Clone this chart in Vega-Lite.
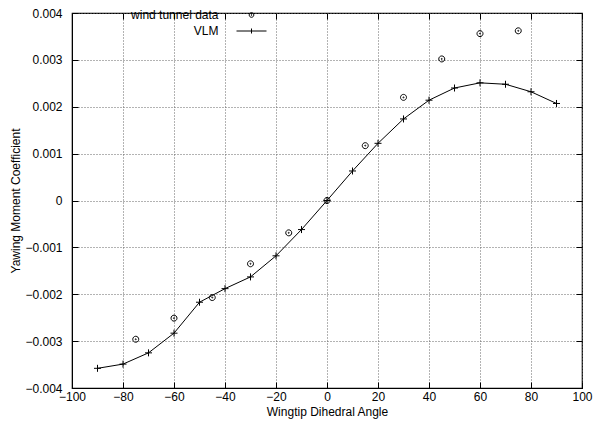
{
  "$schema": "https://vega.github.io/schema/vega-lite/v6.json",
  "width": 510,
  "height": 375,
  "autosize": {"type": "none"},
  "padding": {"left": 72, "top": 13, "right": 18, "bottom": 40},
  "background": "white",
  "config": {
    "font": "Liberation Sans",
    "view": {"stroke": "black", "strokeWidth": 1.2},
    "axis": {
      "domainColor": "black",
      "tickColor": "black",
      "tickSize": -6,
      "labelFontSize": 12,
      "titleFontSize": 12,
      "titleFontWeight": "normal",
      "labelColor": "black",
      "titleColor": "black",
      "gridColor": "#666666",
      "gridDash": [1, 2],
      "gridWidth": 1,
      "gridOpacity": 1,
      "labelFlush": false,
      "labelOverlap": false
    },
    "legend": {
      "orient": "none",
      "legendX": 173.5,
      "legendY": -4,
      "padding": 0,
      "labelAlign": "right",
      "labelOffset": -39,
      "labelFontSize": 12,
      "labelColor": "black",
      "rowPadding": 4,
      "symbolStrokeColor": "black",
      "symbolStrokeWidth": 1,
      "symbolOpacity": 1
    }
  },
  "data": {
    "values": [
      {"series": "VLM", "angle": -90, "cm": -0.00358},
      {"series": "VLM", "angle": -80, "cm": -0.00349},
      {"series": "VLM", "angle": -70, "cm": -0.00325},
      {"series": "VLM", "angle": -60, "cm": -0.00283},
      {"series": "VLM", "angle": -50, "cm": -0.00217},
      {"series": "VLM", "angle": -40, "cm": -0.00188},
      {"series": "VLM", "angle": -30, "cm": -0.00163},
      {"series": "VLM", "angle": -20, "cm": -0.00118},
      {"series": "VLM", "angle": -10, "cm": -0.00062},
      {"series": "VLM", "angle": 0, "cm": 0},
      {"series": "VLM", "angle": 10, "cm": 0.00063},
      {"series": "VLM", "angle": 20, "cm": 0.00122},
      {"series": "VLM", "angle": 30, "cm": 0.00174},
      {"series": "VLM", "angle": 40, "cm": 0.00214},
      {"series": "VLM", "angle": 50, "cm": 0.0024},
      {"series": "VLM", "angle": 60, "cm": 0.00251},
      {"series": "VLM", "angle": 70, "cm": 0.00248},
      {"series": "VLM", "angle": 80, "cm": 0.00232},
      {"series": "VLM", "angle": 90, "cm": 0.00207},
      {"series": "wind tunnel data", "angle": -75, "cm": -0.00296},
      {"series": "wind tunnel data", "angle": -60, "cm": -0.00251},
      {"series": "wind tunnel data", "angle": -45, "cm": -0.00207},
      {"series": "wind tunnel data", "angle": -30, "cm": -0.00135},
      {"series": "wind tunnel data", "angle": -15, "cm": -0.00069},
      {"series": "wind tunnel data", "angle": 0, "cm": 0},
      {"series": "wind tunnel data", "angle": 15, "cm": 0.00117},
      {"series": "wind tunnel data", "angle": 30, "cm": 0.0022},
      {"series": "wind tunnel data", "angle": 45, "cm": 0.00302},
      {"series": "wind tunnel data", "angle": 60, "cm": 0.00356},
      {"series": "wind tunnel data", "angle": 75, "cm": 0.00362}
    ]
  },
  "layer": [
    {
      "transform": [{"filter": "datum.series == 'VLM'"}],
      "mark": {"type": "line", "color": "black", "strokeWidth": 1},
      "encoding": {
        "x": {
          "field": "angle", "type": "quantitative",
          "scale": {"domain": [-100, 100], "nice": false, "zero": false},
          "axis": {"orient": "bottom", "values": [-100, -80, -60, -40, -20, 0, 20, 40, 60, 80, 100], "grid": true, "title": "Wingtip Dihedral Angle", "labelPadding": 9, "titlePadding": 4}
        },
        "y": {
          "field": "cm", "type": "quantitative",
          "scale": {"domain": [-0.004, 0.004], "nice": false, "zero": false},
          "axis": {"orient": "left", "values": [-0.004, -0.003, -0.002, -0.001, 0, 0.001, 0.002, 0.003, 0.004], "grid": true, "title": "Yawing Moment Coefficient", "labelPadding": 16, "titlePadding": 2, "labelExpr": "datum.value == 0 ? '0' : format(datum.value, '.3f')"}
        }
      }
    },
    {
      "transform": [{"filter": "datum.series == 'VLM'"}],
      "mark": {"type": "point", "shape": "M-1,0H1M0,-1V1", "size": 49, "filled": false, "stroke": "black", "strokeWidth": 1, "opacity": 1},
      "encoding": {
        "x": {"field": "angle", "type": "quantitative", "axis": {"orient": "top", "values": [-100, -80, -60, -40, -20, 0, 20, 40, 60, 80, 100], "labels": false, "grid": false, "title": null, "domain": false}},
        "y": {"field": "cm", "type": "quantitative", "axis": {"orient": "right", "values": [-0.004, -0.003, -0.002, -0.001, 0, 0.001, 0.002, 0.003, 0.004], "labels": false, "grid": false, "title": null, "domain": false}}
      }
    },
    {
      "transform": [{"filter": "datum.series == 'wind tunnel data'"}],
      "mark": {"type": "point", "shape": "M0.46,0A0.46,0.46 0 1,1 -0.46,0A0.46,0.46 0 1,1 0.46,0ZM0.08,0A0.08,0.08 0 1,1 -0.08,0A0.08,0.08 0 1,1 0.08,0Z", "size": 169, "filled": false, "stroke": "black", "strokeWidth": 1, "opacity": 1},
      "encoding": {
        "x": {"field": "angle", "type": "quantitative", "axis": null},
        "y": {"field": "cm", "type": "quantitative", "axis": null}
      }
    },
    {
      "mark": {"type": "point", "size": 169, "filled": false, "stroke": "black", "opacity": 0},
      "encoding": {
        "x": {"field": "angle", "type": "quantitative", "axis": null},
        "y": {"field": "cm", "type": "quantitative", "axis": null},
        "shape": {
          "field": "series", "type": "nominal",
          "scale": {"domain": ["wind tunnel data", "VLM"], "range": ["M0.46,0A0.46,0.46 0 1,1 -0.46,0A0.46,0.46 0 1,1 0.46,0ZM0.08,0A0.08,0.08 0 1,1 -0.08,0A0.08,0.08 0 1,1 0.08,0Z", "M-3,0H3M0,-0.5V0.5"]},
          "legend": {"title": null}
        }
      }
    }
  ],
  "resolve": {"axis": {"x": "independent", "y": "independent"}}
}
